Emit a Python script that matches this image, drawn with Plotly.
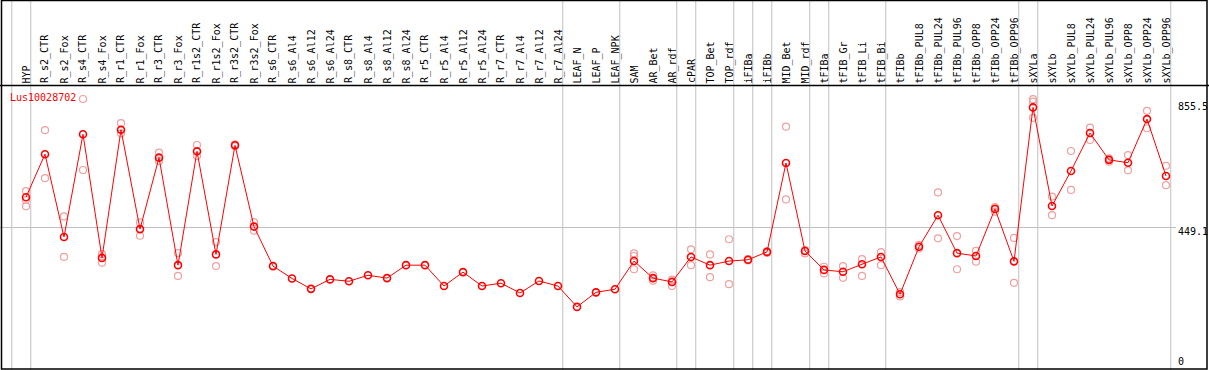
import plotly.graph_objects as go

categories = ["HYP", "R_s2_CTR", "R_s2_Fox", "R_s4_CTR", "R_s4_Fox", "R_r1_CTR", "R_r1_Fox",
              "R_r3_CTR", "R_r3_Fox", "R_r1s2_CTR", "R_r1s2_Fox", "R_r3s2_CTR", "R_r3s2_Fox",
              "R_s6_CTR", "R_s6_Al4", "R_s6_Al12", "R_s6_Al24", "R_s8_CTR", "R_s8_Al4", "R_s8_Al12",
              "R_s8_Al24", "R_r5_CTR", "R_r5_Al4", "R_r5_Al12", "R_r5_Al24", "R_r7_CTR", "R_r7_Al4",
              "R_r7_Al12", "R_r7_Al24", "LEAF_N", "LEAF_P", "LEAF_NPK", "SAM", "AR_Bet", "AR_rdf",
              "cPAR", "TOP_Bet", "TOP_rdf", "iFIBa", "iFIBb", "MID_Bet", "MID_rdf", "tFIBa",
              "tFIB_Gr", "tFIB_Li", "tFIB_Bi", "tFIBb", "tFIBb_PUL8", "tFIBb_PUL24", "tFIBb_PUL96",
              "tFIBb_OPP8", "tFIBb_OPP24", "tFIBb_OPP96", "sXYLa", "sXYLb", "sXYLb_PUL8",
              "sXYLb_PUL24", "sXYLb_PUL96", "sXYLb_OPP8", "sXYLb_OPP24", "sXYLb_OPP96"]

group_sizes = [1, 28, 3, 3, 1, 2, 1, 1, 2, 1, 3, 7, 1, 7]

mean_vals = [545, 681, 419, 744, 353, 758, 444, 670, 330, 690, 364, 709, 452,
             327, 288, 255, 285, 279, 298, 289, 330, 330, 264, 308, 264, 273, 242, 280, 264,
             198, 244, 254, 343, 289, 277, 356, 330, 343, 347, 372, 653, 375, 315,
             309, 333, 356, 238, 388, 488, 368, 359, 508, 342, 829, 517, 628,
             748, 663, 654, 792, 612]

rep_a = [564, 757, 484, 855.5, 365, 779, 465, 686, 368, 710, 403, 712, 466,
         None, None, None, None, None, None, None, None, None, None, None, None, None, None, None, None,
         None, None, None, 367, 298, 284, 380, 364, 412, 349, 374, 768, 378, 325,
         327, 349, 371, 245, 394, 560, 422, 375, 499, 416, 855, 547, 691,
         765, 668, 678, 818, 644]

rep_b = [536, 605, 356, 631, 338, 747, 423, 659, 296, 675, 327, 706, 439,
         None, None, None, None, None, None, None, None, None, None, None, None, None, None, None, None,
         None, None, None, 359, 281, 264, 330, 292, 270, 345, 369, 538, 367, 304,
         290, 296, 330, 231, 383, 415, 317, 341, 514, 274, 847, 488, 568,
         726, 657, 630, 763, 583]

rep_c = [516, None, None, None, None, None, None, None, None, None, None, None, None,
         None, None, None, None, None, None, None, None, None, None, None, None, None, None, None, None,
         None, None, None, 317, None, None, None, None, None, None, None, None, None, None,
         None, None, None, None, None, None, None, None, None, None, 796, None, None,
         None, None, None, None, None]

y_tick_vals = [855.5, 449.1, 0]
y_tick_text = ["855.5", "449.1", "0"]
gene_name = "Lus10028702"

# ---- layout geometry (pixels) ----
W, H = 1209, 370
STEP, X0 = 19, 26
xr = [-X0 / STEP, (W - X0) / STEP]
PX_ZERO, PX_TOP = 369.5, 99.0
ppu = (PX_ZERO - PX_TOP) / y_tick_vals[0]
y_lo = -(H - PX_ZERO) / ppu
yr = [y_lo, y_lo + H / ppu]
HEADER = 85.5
FONT = "DejaVu Sans Mono"


def px(x):
    return x / W


def py(y):
    return 1 - y / H


xs = list(range(len(categories)))

fig = go.Figure()

# replicate points
rx, ry = [], []
for reps in (rep_a, rep_b, rep_c):
    for i, v in enumerate(reps):
        if v is not None:
            rx.append(i)
            ry.append(v)
fig.add_trace(go.Scatter(
    x=rx, y=ry, mode="markers",
    marker=dict(symbol="circle-open", size=7, color="rgb(240,160,160)",
                line=dict(width=1.2, color="rgb(240,160,160)")),
    hoverinfo="skip", showlegend=False))

# mean line
fig.add_trace(go.Scatter(
    x=xs, y=mean_vals, mode="lines+markers",
    line=dict(color="#ff0000", width=1),
    marker=dict(symbol="circle-open", size=7, color="#ff0000",
                line=dict(width=1.6, color="#ff0000")),
    showlegend=False))

shapes = []
# vertical group separators
b = -1
bounds = [b]
for g in group_sizes:
    b += g
    bounds.append(b)
for bi in bounds:
    shapes.append(dict(type="line", xref="x", yref="paper", x0=bi + 0.25, x1=bi + 0.25,
                       y0=0, y1=1, line=dict(color="#c0c0c0", width=1), layer="below"))
# horizontal gridline at middle tick
shapes.append(dict(type="line", xref="paper", yref="y", x0=0, x1=px(1176),
                   y0=y_tick_vals[1], y1=y_tick_vals[1],
                   line=dict(color="#c0c0c0", width=1), layer="below"))
# header separator
shapes.append(dict(type="line", xref="paper", yref="paper", x0=0, x1=1,
                   y0=py(HEADER), y1=py(HEADER), line=dict(color="black", width=1.5)))
# frame
shapes.append(dict(type="rect", xref="paper", yref="paper", x0=px(1.5), x1=px(1207),
                   y0=py(369), y1=py(0.5), line=dict(color="black", width=1.5)))

annotations = []
for i, c in enumerate(categories):
    annotations.append(dict(x=i, xref="x", y=py(HEADER - 1), yref="paper", text=c,
                            textangle=-90, showarrow=False, xanchor="center", yanchor="bottom",
                            font=dict(family=FONT, size=10, color="black"),
                            borderpad=0))
annotations.append(dict(x=px(9), xref="paper", y=py(98), yref="paper", text=gene_name,
                        showarrow=False, xanchor="left", yanchor="middle",
                        font=dict(family=FONT, size=10, color="red"), borderpad=0))
label_y = [106.5, 231.5, 361.5]
for v, t, ly in zip(y_tick_vals, y_tick_text, label_y):
    annotations.append(dict(x=px(1177), xref="paper", y=py(ly), yref="paper", text=t,
                            showarrow=False, xanchor="left", yanchor="middle",
                            font=dict(family=FONT, size=10, color="black"), borderpad=0))

fig.update_layout(
    width=W, height=H, autosize=False,
    margin=dict(l=0, r=0, t=0, b=0, pad=0),
    paper_bgcolor="white", plot_bgcolor="white",
    xaxis=dict(range=xr, visible=False, fixedrange=True),
    yaxis=dict(range=yr, visible=False, fixedrange=True),
    shapes=shapes, annotations=annotations,
    showlegend=False,
)

fig.write_html("out.html", config={"displayModeBar": False},
               post_script="document.body.style.margin='0px';document.body.style.overflow='hidden';")
